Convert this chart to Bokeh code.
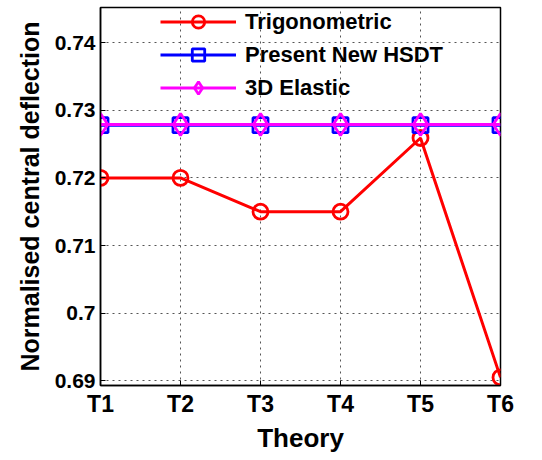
from bokeh.plotting import figure
from bokeh.models import Range1d, FixedTicker, Legend, LegendItem
from bokeh.embed import file_html
from bokeh.resources import INLINE

theories = ["T1", "T2", "T3", "T4", "T5", "T6"]
trig = [0.720, 0.720, 0.715, 0.715, 0.7259, 0.6905]
hsdt = [0.7278, 0.7278, 0.7278, 0.7278, 0.7278, 0.7278]
elastic = [0.7279, 0.7279, 0.7279, 0.7279, 0.7279, 0.7279]
y_ticks = [0.69, 0.70, 0.71, 0.72, 0.73, 0.74]
y_labels = ["0.69", "0.7", "0.71", "0.72", "0.73", "0.74"]

x = list(range(1, len(theories) + 1))
FONT = "Liberation Sans"

p = figure(width=532, height=455, output_backend="svg", toolbar_location=None,
           x_range=Range1d(1, 6), y_range=Range1d(0.6893, 0.7452),
           min_border_left=100, min_border_right=32, min_border_top=7, min_border_bottom=68)
p.outline_line_color = "black"
p.outline_line_width = 1.5

r1 = p.line(x, trig, line_color="red", line_width=3)
s1 = p.scatter(x, trig, marker="circle", size=15, fill_color=None, line_color="red", line_width=2.8)
r2 = p.line(x, hsdt, line_color="blue", line_width=3)
s2 = p.scatter(x, hsdt, marker="square", size=15, fill_color=None, line_color="blue", line_width=2.8)
r3 = p.line(x, elastic, line_color="magenta", line_width=3)
s3 = p.scatter(x, elastic, marker="diamond", size=22, fill_color=None, line_color="magenta", line_width=2.8)

for ax in (p.xaxis[0], p.yaxis[0]):
    ax.major_tick_in = 5
    ax.major_tick_out = 0
    ax.minor_tick_in = 0
    ax.minor_tick_out = 0
    ax.axis_line_width = 1.5
    ax.major_label_text_font = FONT
    ax.major_label_text_font_style = "bold"
    ax.major_label_text_color = "black"
    ax.axis_label_text_font = FONT
    ax.axis_label_text_font_style = "bold"
    ax.axis_label_text_color = "black"

p.xaxis.ticker = FixedTicker(ticks=x)
p.xaxis.major_label_overrides = {i: t for i, t in zip(x, theories)}
p.xaxis.axis_label = "Theory"
p.xaxis.major_label_text_font_size = "23px"
p.xaxis.axis_label_text_font_size = "26px"
p.xaxis.major_label_standoff = 5
p.xaxis.axis_label_standoff = 3
p.yaxis.ticker = FixedTicker(ticks=y_ticks)
p.yaxis.major_label_overrides = {v: l for v, l in zip(y_ticks, y_labels)}
p.yaxis.axis_label = "Normalised central deflection"
p.yaxis.major_label_text_font_size = "21px"
p.yaxis.axis_label_text_font_size = "25px"
p.yaxis.major_label_standoff = 5
p.yaxis.axis_label_standoff = 8

p.xgrid.ticker = FixedTicker(ticks=x)
p.ygrid.ticker = FixedTicker(ticks=y_ticks)
for g in (p.xgrid[0], p.ygrid[0]):
    g.grid_line_color = "#555555"
    g.grid_line_dash = "dotted"
    g.grid_line_width = 1

legend = Legend(items=[
    LegendItem(label="Trigonometric", renderers=[r1, s1]),
    LegendItem(label="Present New HSDT", renderers=[r2, s2]),
    LegendItem(label="3D Elastic", renderers=[r3, s3]),
], location=(60, 282))
legend.border_line_color = None
legend.background_fill_alpha = 0
legend.label_text_font = FONT
legend.label_text_font_style = "bold"
legend.label_text_font_size = "22px"
legend.label_text_color = "black"
legend.glyph_width = 76
legend.glyph_height = 31
legend.label_height = 31
legend.spacing = 2
legend.padding = 0
legend.margin = 0
legend.label_standoff = 9
p.add_layout(legend, "center")

open("out.html", "w").write(file_html(p, INLINE))
